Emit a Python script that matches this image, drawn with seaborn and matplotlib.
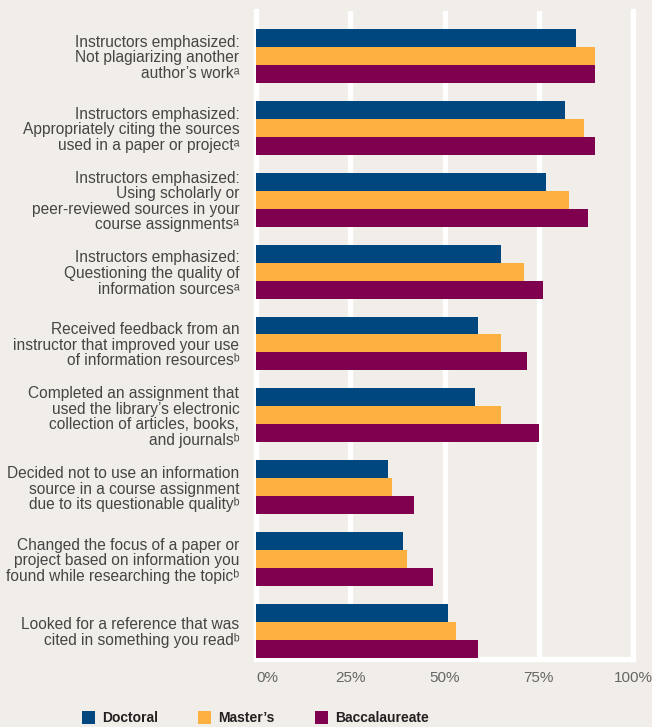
import matplotlib
matplotlib.use("Agg")
import matplotlib.pyplot as plt
import matplotlib.patches as mpatches
from matplotlib.font_manager import FontProperties
import numpy as np
import pandas as pd
import seaborn as sns

# Survey items (share of students answering "often" or "very often")
items = [
    "Instructors emphasized:\nNot plagiarizing another\nauthor’s workᵃ",
    "Instructors emphasized:\nAppropriately citing the sources\nused in a paper or projectᵃ",
    "Instructors emphasized:\nUsing scholarly or\npeer-reviewed sources in your\ncourse assignmentsᵃ",
    "Instructors emphasized:\nQuestioning the quality of\ninformation sourcesᵃ",
    "Received feedback from an\ninstructor that improved your use\nof information resourcesᵇ",
    "Completed an assignment that\nused the library’s electronic\ncollection of articles, books,\nand journalsᵇ",
    "Decided not to use an information\nsource in a course assignment\ndue to its questionable qualityᵇ",
    "Changed the focus of a paper or\nproject based on information you\nfound while researching the topicᵇ",
    "Looked for a reference that was\ncited in something you readᵇ",
]
doctoral = [85, 82, 77, 65, 59, 58, 35, 39, 51]
masters = [90, 87, 83, 71, 65, 65, 36, 40, 53]
baccalaureate = [90, 90, 88, 76, 72, 75, 42, 47, 59]
levels = ["Doctoral", "Master’s", "Baccalaureate"]
colors = ["#00467f", "#fbb040", "#800050"]
ticks = [0, 25, 50, 75, 100]
tick_labels = ["0%", "25%", "50%", "75%", "100%"]

bg = "#f1eee9"
plt.rcParams["font.family"] = ["Liberation Sans", "DejaVu Sans"]

df = pd.DataFrame({
    "item": items * 3,
    "share": doctoral + masters + baccalaureate,
    "level": np.repeat(levels, len(items)),
})

W, H = 652, 727
fig = plt.figure(figsize=(W / 100, H / 100), dpi=100, facecolor=bg)
ax = fig.add_axes([256 / W, 1 - 659 / H, (633 - 256) / W, (659 - 11) / H])
ax.set_facecolor(bg)

sns.barplot(
    data=df, x="share", y="item", hue="level",
    order=items, hue_order=levels, palette=colors,
    orient="h", width=0.75, gap=0, saturation=1,
    errorbar=None, legend=False, ax=ax,
)

ax.set_xlim(0, 100)
ax.set_ylim(8.39, -0.626)
ax.set_xlabel("")
ax.set_ylabel("")

# white guide lines behind the bars
ax.set_xticks(ticks, tick_labels)
ax.xaxis.grid(True, color="white", linewidth=3.8)
ax.yaxis.grid(False)
ax.set_axisbelow(True)
for side in ["left", "right", "bottom"]:
    ax.spines[side].set_color("white")
    ax.spines[side].set_linewidth(3.8)
    ax.spines[side].set_zorder(0.6)
ax.spines["top"].set_visible(False)

ax.tick_params(axis="x", length=0, pad=9, labelsize=11, labelcolor="#666666")
ax.tick_params(axis="y", length=0, pad=12, labelsize=11.2, labelcolor="#454545")
xl = ax.get_xticklabels()
xl[0].set_ha("left")
for lab in ax.get_yticklabels():
    lab.set_linespacing(1.05)

handles = [mpatches.Patch(facecolor=c, edgecolor="none", label=l) for c, l in zip(colors, levels)]
fig.legend(
    handles=handles, loc="center", bbox_to_anchor=(255.5 / W, 1 - 718 / H),
    ncol=3, frameon=False,
    prop=FontProperties(family=["Liberation Sans"], weight="bold", size=10),
    labelcolor="#231f20", handlelength=0.94, handleheight=1.15,
    handletextpad=0.5, columnspacing=2.9, borderpad=0, borderaxespad=0,
)

fig.savefig("out.png", dpi=100, facecolor=bg)
